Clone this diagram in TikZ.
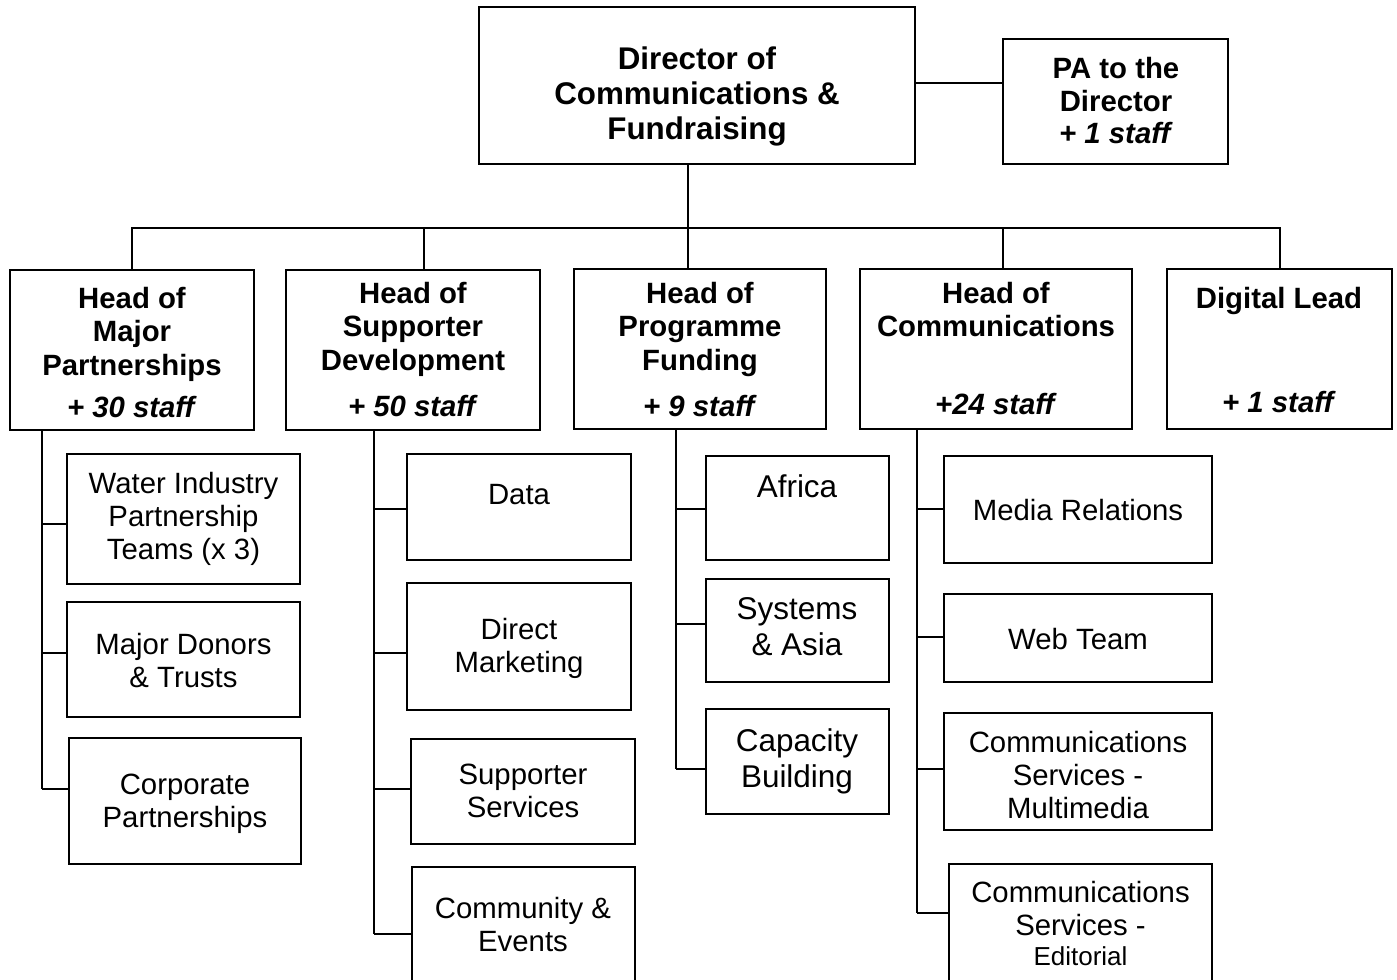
\documentclass[tikz,border=0pt]{standalone}
\usepackage{fontspec}
\setmainfont{Liberation Sans}
\tikzset{
  x=0.75pt, y=-0.75pt,
  line/.style={line width=1.5pt, black},
  boxs/.style={draw, line width=1.5pt, rectangle, inner sep=0pt},
  hd/.style={align=center, inner sep=0pt, anchor=north, font=\fontsize{22pt}{25.1pt}\selectfont\bfseries},
  dirtxt/.style={align=center, inner sep=0pt, anchor=north, font=\fontsize{23.5pt}{26.25pt}\selectfont\bfseries},
  patxt/.style={align=center, inner sep=0pt, anchor=north, font=\fontsize{22pt}{24.4pt}\selectfont\bfseries},
  ch/.style={align=center, inner sep=0pt, anchor=north, font=\fontsize{22pt}{24.75pt}\selectfont},
  chb/.style={align=center, inner sep=0pt, anchor=north, font=\fontsize{23.6pt}{27pt}\selectfont},
}
\newcommand\mkbox[5]{\node[boxs, minimum width={(#4-#2)*0.75pt}, minimum height={(#5-#3)*0.75pt}] (#1) at ({(#2+#4)/2},{(#3+#5)/2}) {};}
\begin{document}
\begin{tikzpicture}
\useasboundingbox (0,0) rectangle (1397,979);
\clip (0,0) rectangle (1397,979);
% top level
\mkbox{dir}{479}{7}{915}{164}
\mkbox{pa}{1003}{39}{1228}{164}
\node[dirtxt] (dirt) at (697,46.5) {Director of\\Communications \&\\Fundraising};
\node[patxt] (pat) at (1116,57) {PA to the\\Director\\\textit{+ 1 staff}};
% heads
\mkbox{maj}{10}{270}{254}{430}
\mkbox{sup}{286}{270}{540}{430}
\mkbox{prg}{574}{269}{826}{429}
\mkbox{com}{860}{269}{1132}{429}
\mkbox{dig}{1167}{269}{1392}{429}
\node[hd] (majt) at (132,287) {Head of\\Major\\Partnerships\\[6.4pt]\textit{+ 30 staff}};
\node[hd] (supt) at (413,282) {Head of\\Supporter\\Development\\[9.4pt]\textit{+ 50 staff}};
\node[hd] (prgt) at (700,282) {Head of\\Programme\\Funding\\[9.4pt]\textit{+ 9 staff}};
\node[hd] (comt) at (996,282) {Head of\\Communications\\[33.4pt]\textit{+24 staff}};
\node[hd] (digt) at (1279,287) {Digital Lead\\[52.9pt]\textit{+ 1 staff}};
% children of Major Partnerships
\mkbox{wat}{67}{454}{300}{584}
\mkbox{don}{67}{602}{300}{717}
\mkbox{cor}{69}{738}{301}{864}
\node[ch] (watt) at (183.5,471.7) {Water Industry\\Partnership\\Teams (x 3)};
\node[ch] (dont) at (183.5,632.8) {Major Donors\\\& Trusts};
\node[ch] (cort) at (185,774) {Corporate\\Partnerships};
% children of Supporter Development
\mkbox{dat}{407}{454}{631}{560}
\mkbox{dm}{407}{583}{631}{710}
\mkbox{ss}{411}{739}{635}{844}
\mkbox{ce}{412}{867}{635}{1000}
\node[ch] (datt) at (519,484) {Data};
\node[ch] (dmt) at (519,618) {Direct\\Marketing};
\node[ch] (sst) at (523,764) {Supporter\\Services};
\node[ch] (cet) at (523,897) {Community \&\\Events};
% children of Programme Funding
\mkbox{af}{706}{456}{889}{560}
\mkbox{sy}{706}{579}{889}{682}
\mkbox{ca}{706}{709}{889}{814}
\node[chb] (aft) at (797,474.4) {Africa};
\node[chb] (syt) at (797,597) {Systems\\\& Asia};
\node[chb] (cat) at (797,728.4) {Capacity\\Building};
% children of Communications
\mkbox{me}{944}{456}{1212}{563}
\mkbox{wt}{944}{594}{1212}{682}
\mkbox{mm}{944}{713}{1212}{830}
\mkbox{ed}{949}{864}{1212}{1000}
\node[ch] (met) at (1078,499) {Media Relations};
\node[ch] (wtt) at (1078,628) {Web Team};
\node[ch] (mmt) at (1078,730.8) {Communications\\Services -\\Multimedia};
\node[ch] (edt) at (1080.5,881) {Communications\\Services -\\[-2pt]{\fontsize{19.5pt}{22pt}\selectfont Editorial}};
% connectors: top
\draw[line] (dir.east |- 0,83) -- (pa.west |- 0,83);
\coordinate (busc) at (688,228);
\coordinate (jS) at (424,228);
\draw[line] (dir.south -| busc) -- (busc);
\draw[line] (maj.north) -- (maj.north |- busc) -- (dig.north |- busc) -- (dig.north);
\draw[line] (jS) -- (jS |- sup.north);
\draw[line] (busc) -- (busc |- prg.north);
\coordinate (jC) at (1003,228);
\draw[line] (jC) -- (jC |- com.north);
% Major spine
\coordinate (wat-s) at (42,524);
\coordinate (don-s) at (42,653);
\coordinate (cor-s) at (42,789);
\draw[line] (maj.south -| wat-s) -- (cor-s);
\draw[line] (wat-s) -- (wat-s -| wat.west);
\draw[line] (don-s) -- (don-s -| don.west);
\draw[line] (cor-s) -- (cor-s -| cor.west);
% Supporter spine
\coordinate (dat-s) at (374,509);
\coordinate (dm-s) at (374,653);
\coordinate (ss-s) at (374,789);
\coordinate (ce-s) at (374,934);
\draw[line] (sup.south -| dat-s) -- (ce-s);
\draw[line] (dat-s) -- (dat-s -| dat.west);
\draw[line] (dm-s) -- (dm-s -| dm.west);
\draw[line] (ss-s) -- (ss-s -| ss.west);
\draw[line] (ce-s) -- (ce-s -| ce.west);
% Programme spine
\coordinate (af-s) at (676,509);
\coordinate (sy-s) at (676,624);
\coordinate (ca-s) at (676,769);
\draw[line] (prg.south -| af-s) -- (ca-s);
\draw[line] (af-s) -- (af-s -| af.west);
\draw[line] (sy-s) -- (sy-s -| sy.west);
\draw[line] (ca-s) -- (ca-s -| ca.west);
% Communications spine
\coordinate (me-s) at (917,509);
\coordinate (wt-s) at (917,637);
\coordinate (mm-s) at (917,769);
\coordinate (ed-s) at (917,913);
\draw[line] (com.south -| me-s) -- (ed-s);
\draw[line] (me-s) -- (me-s -| me.west);
\draw[line] (wt-s) -- (wt-s -| wt.west);
\draw[line] (mm-s) -- (mm-s -| mm.west);
\draw[line] (ed-s) -- (ed-s -| ed.west);
\end{tikzpicture}
\end{document}
